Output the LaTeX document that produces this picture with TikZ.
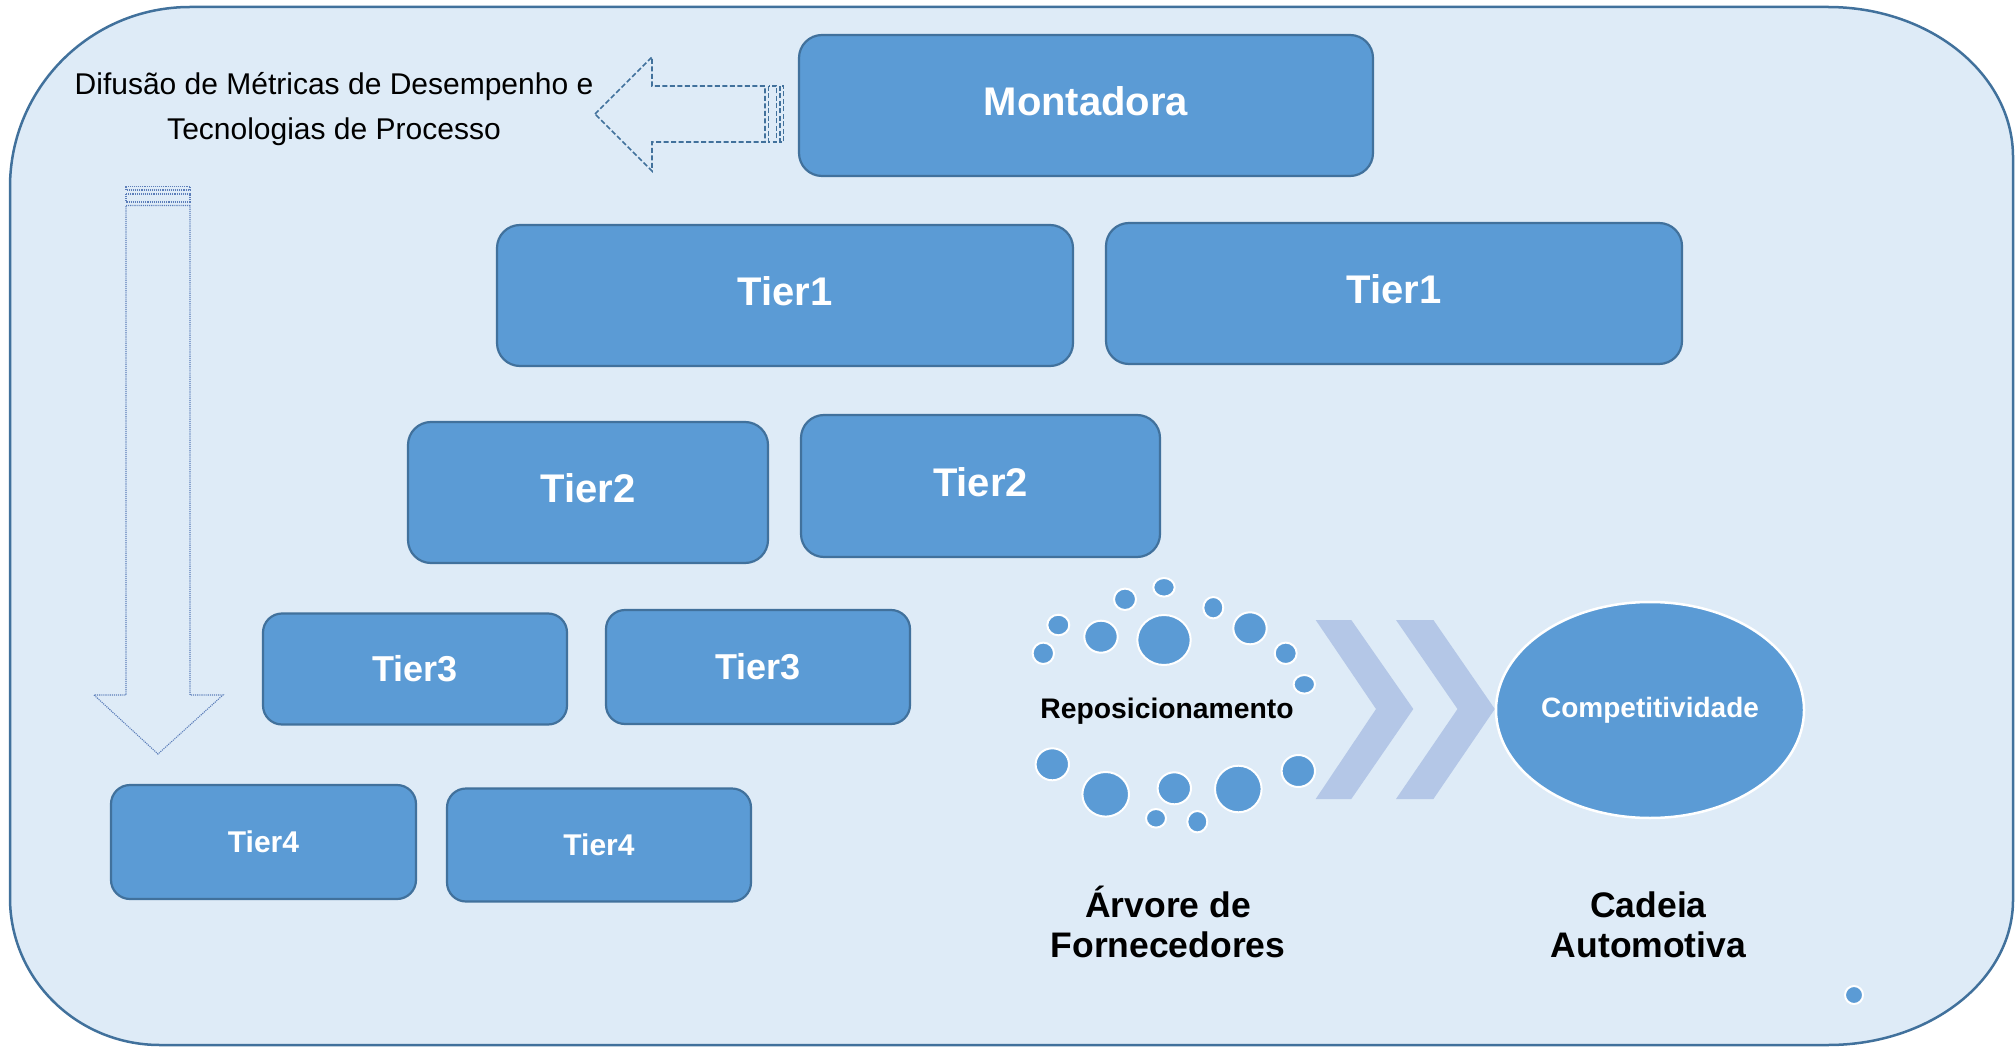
\documentclass[tikz,border=0pt]{standalone}
\usepackage{fontspec}
\setmainfont{Liberation Sans}
\usetikzlibrary{shapes.geometric}
\definecolor{bgfill}{HTML}{DEEBF7}
\definecolor{framec}{HTML}{41719C}
\definecolor{boxfill}{HTML}{5B9BD5}
\definecolor{chev}{HTML}{B4C7E7}
\definecolor{dotline}{HTML}{5B7DB9}
\begin{document}
\begin{tikzpicture}[x=1pt,y=-1pt,
  tierbox/.style={rectangle, draw=framec, fill=boxfill, line width=2.2pt, inner sep=0pt, text=white,
     font=\bfseries\fontsize{#1}{#1}\selectfont, text height=0.72*#1, text depth=0.22*#1},
  bubble/.style={fill=boxfill, draw=white, line width=2pt},
  chevron/.style={fill=chev, draw=none},
  blocktext/.style={text=black, font=\bfseries\fontsize{35.5}{40}\selectfont, align=center},
  dasharrow/.style={draw=framec, line width=1.6pt, dash pattern=on 5pt off 2.5pt},
  dotarrow/.style={draw=dotline, line width=1.1pt, densely dotted},
]
\useasboundingbox (0,0) rectangle (2015,1048);

% outer frame
\path[fill=bgfill, draw=framec, line width=2.5pt]
  (10,187) .. controls (10,87.6) and (90.6,7) .. (190,7)
  -- (1828,7) .. controls (1930.2,7) and (2013,74.2) .. (2013,157)
  -- (2013,900) .. controls (2013,980.1) and (1930.2,1045) .. (1828,1045)
  -- (160,1045) .. controls (77.2,1045) and (10,979.2) .. (10,898) -- cycle;

% tier boxes
\node[tierbox=40, minimum width=574, minimum height=141, rounded corners=23pt] (mont) at (1086,105.5) {Montadora};
\node[tierbox=40, minimum width=576, minimum height=141, rounded corners=23pt] (t1a) at (785,295.5) {Tier1};
\node[tierbox=40, minimum width=576, minimum height=141, rounded corners=23pt] (t1b) at (1394,293.5) {Tier1};
\node[tierbox=40, minimum width=360, minimum height=141, rounded corners=23pt] (t2a) at (588,492.5) {Tier2};
\node[tierbox=40, minimum width=359, minimum height=142, rounded corners=23pt] (t2b) at (980.5,486) {Tier2};
\node[tierbox=36, text depth=0pt, minimum width=304, minimum height=111, rounded corners=19pt] (t3a) at (415,669) {Tier3};
\node[tierbox=36, text depth=0pt, minimum width=304, minimum height=114, rounded corners=19pt] (t3b) at (758,667) {Tier3};
\node[tierbox=30, text depth=0pt, minimum width=305, minimum height=114, rounded corners=19pt] (t4a) at (263.5,842) {Tier4};
\node[tierbox=30, text depth=0pt, minimum width=304, minimum height=113, rounded corners=19pt] (t4b) at (599,845) {Tier4};

% dashed left block arrow (striped)
\draw[dasharrow] (595,114) -- (652,57) -- (652,86) -- (765,86) -- (765,142) -- (652,142) -- (652,171) -- cycle;
\draw[dasharrow] (768.5,86) rectangle (776.5,142);
\draw[dasharrow] (780,86) rectangle (783.5,142);

% dotted down block arrow (striped)
\draw[dotarrow] (126,205.5) -- (190,205.5) -- (190,695) -- (223,695) -- (158,754) -- (94,695) -- (126,695) -- cycle;
\draw[dotarrow] (126,186.5) rectangle (190,190);
\draw[dotarrow] (126,194) rectangle (190,202);

% text
\node[anchor=base, align=center, font=\fontsize{30}{45}\selectfont] (difusao) at (334,140)
  {Difusão de Métricas de Desempenho e\\Tecnologias de Processo};

% bubbles
\foreach \x/\y/\a/\b in {1164/587.3/10.7/9.3, 1125/599.3/11/10.7, 1213.3/607.7/10/10.7,
  1058.3/625/11/10.3, 1101/636.7/16.7/16, 1164/640/26.7/25, 1250/628.3/16.7/16,
  1043.3/653.3/10.7/10.7, 1285.7/653.3/11/10.7, 1304.3/684.3/10.7/9.3,
  1052.3/764.3/16.7/16, 1105.7/794.3/23.3/22.3, 1174.3/788.3/16.7/16,
  1238.3/789/23.3/23.3, 1298.3/771/16.7/16, 1156/818.3/10/9.3, 1197.3/821.7/10/10.7}
  \draw[bubble] (\x,\y) ellipse [x radius=\a, y radius=\b];

\node[anchor=base, font=\bfseries\fontsize{28.3}{30}\selectfont] (repo) at (1167,718) {Reposicionamento};

% chevrons
\fill[chevron] (1315.7,620) -- (1351.3,620) -- (1413.3,709) -- (1351.3,799) -- (1315.7,799) -- (1376,709) -- cycle;
\fill[chevron] (1396,620) -- (1433.4,620) -- (1494.8,709) -- (1433.4,799) -- (1396,799) -- (1457.5,709) -- cycle;

% competitividade
\node[ellipse, fill=boxfill, draw=white, line width=2.5pt, minimum width=304, minimum height=216, inner sep=0pt,
  text=white, font=\bfseries\fontsize{28}{30}\selectfont] (comp) at (1650,710) {Competitividade};

\node[blocktext, anchor=base] (arvore) at (1168,957) {Árvore de\\Fornecedores};
\node[blocktext, anchor=base] (cadeia) at (1648.5,957) {Cadeia\\Automotiva};

\draw[bubble] (1854,995) circle [radius=9];
\end{tikzpicture}
\end{document}
